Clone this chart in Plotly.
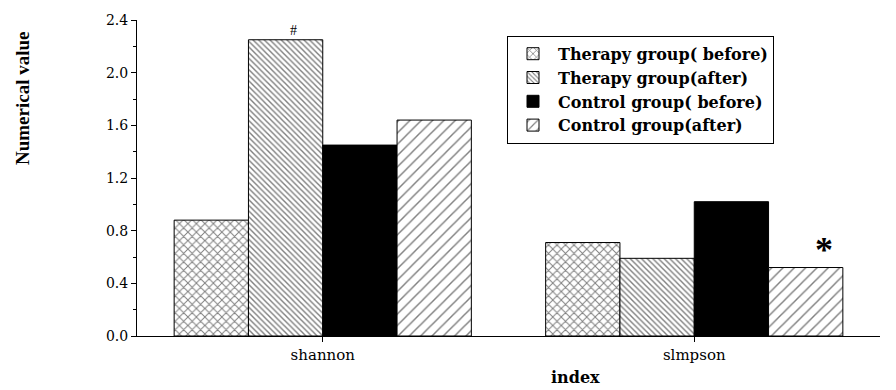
import plotly.graph_objects as go

# Diversity indices per group
categories = ["shannon", "slmpson"]
therapy_before = [0.88, 0.71]
therapy_after = [2.25, 0.59]
control_before = [1.45, 1.02]
control_after = [1.64, 0.52]

series_names = [
    "Therapy group( before)",
    "Therapy group(after)",
    "Control group( before)",
    "Control group(after)",
]
y_ticks = [0.0, 0.4, 0.8, 1.2, 1.6, 2.0, 2.4]

SERIF = "Liberation Serif"
WIDE_SERIF = "DejaVu Serif"

styles = [
    dict(shape="x", size=6, solidity=0.3, fgcolor="black", bgcolor="white"),
    dict(shape="\\", size=4, solidity=0.35, fgcolor="black", bgcolor="white"),
    None,
    dict(shape="/", size=8, solidity=0.18, fgcolor="black", bgcolor="white"),
]
values = [therapy_before, therapy_after, control_before, control_after]

fig = go.Figure()
for name, vals, pat in zip(series_names, values, styles):
    marker = dict(color="white" if pat else "black", line=dict(color="black", width=1))
    if pat:
        marker["pattern"] = pat
    fig.add_trace(go.Bar(x=categories, y=vals, name=name, marker=marker))

W, H = 896, 390
L, R, T, B = 137, 16, 16, 54
PW, PH = W - L - R, H - T - B


def px_to_paper(px, py):
    return (px - L) / PW, 1 - (py - T) / PH


fig.update_layout(
    width=W,
    height=H,
    margin=dict(l=L, r=R, t=T, b=B),
    paper_bgcolor="white",
    plot_bgcolor="white",
    barmode="group",
    bargap=0.2,
    bargroupgap=0,
    font=dict(family=SERIF, color="black", size=15),
    legend=dict(
        x=px_to_paper(507, 32)[0],
        y=px_to_paper(507, 32)[1],
        xanchor="left",
        yanchor="top",
        bordercolor="black",
        borderwidth=1,
        bgcolor="white",
        font=dict(family=WIDE_SERIF, size=16, color="black", weight="bold"),
        tracegroupgap=0,
        itemwidth=40,
    ),
    xaxis=dict(
        range=[-0.5, 1.5],
        showline=True,
        linecolor="black",
        linewidth=1,
        ticks="outside",
        ticklen=5,
        tickcolor="black",
        tickfont=dict(family=WIDE_SERIF, size=15),
        showgrid=False,
        zeroline=False,
    ),
    yaxis=dict(
        range=[0, 2.4],
        tickvals=y_ticks,
        ticktext=[f"{v:.1f}" for v in y_ticks],
        showline=True,
        linecolor="black",
        linewidth=1,
        ticks="outside",
        ticklen=5,
        tickcolor="black",
        tickfont=dict(family=WIDE_SERIF, size=14),
        minor=dict(ticks="outside", ticklen=3, tickcolor="black", dtick=0.2, showgrid=False),
        showgrid=False,
        zeroline=False,
    ),
)

# Axis titles
tx, ty = px_to_paper(22, 95)
fig.add_annotation(
    x=tx, y=ty, xref="paper", yref="paper", text="Numerical value",
    showarrow=False, textangle=-90, xanchor="center", yanchor="middle",
    font=dict(family=SERIF, size=19, color="black", weight="bold"),
)
ix, iy = px_to_paper(575, 378)
fig.add_annotation(
    x=ix, y=iy, xref="paper", yref="paper",
    text="index", showarrow=False, yanchor="middle",
    font=dict(family=WIDE_SERIF, size=16, color="black", weight="bold"),
)

# Significance markers
fig.add_annotation(
    x=-0.08, y=therapy_after[0], xref="x", yref="y",
    text="#", showarrow=False, yanchor="bottom", yshift=0,
    font=dict(family=SERIF, size=14, color="black"),
)
fig.add_annotation(
    x=1.35, y=control_after[1], xref="x", yref="y",
    text="*", showarrow=False, yanchor="bottom", yshift=-4,
    font=dict(family=SERIF, size=36, color="black", weight="bold"),
)

fig.write_html("out.html")
